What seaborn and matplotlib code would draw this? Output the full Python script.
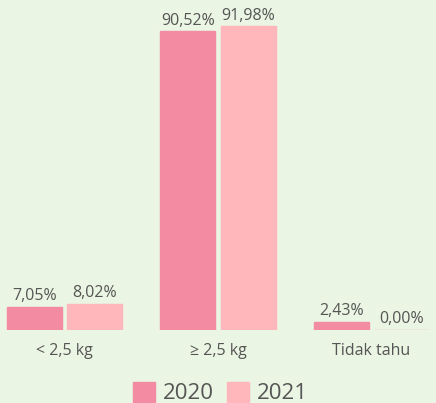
import pandas as pd
import matplotlib.pyplot as plt
import seaborn as sns

# data
categories = ['< 2,5 kg', '≥ 2,5 kg', 'Tidak tahu']
years = ['2020', '2021']
values_2020 = [7.05, 90.52, 2.43]
values_2021 = [8.02, 91.98, 0.00]

colors = {'2020': '#f38ba3', '2021': '#ffb7bb'}
bg = '#ebf5e3'
text_color = '#555555'

df = pd.DataFrame({
    'kategori': categories * 2,
    'tahun': ['2020'] * 3 + ['2021'] * 3,
    'nilai': values_2020 + values_2021,
})

sns.set_theme(style='white')
plt.rcParams['font.family'] = ['Open Sans', 'DejaVu Sans']

fig = plt.figure(figsize=(4.36, 4.03), dpi=100, facecolor=bg)
ax = fig.add_axes([0.0, 0.181, 1.0, 0.819])
ax.set_facecolor(bg)

sns.barplot(data=df, x='kategori', y='nilai', hue='tahun', order=categories,
            hue_order=years, palette=colors, saturation=1, width=0.79, gap=0.09,
            linewidth=1, ax=ax)
for p in ax.patches:
    p.set_edgecolor(p.get_facecolor())

for cont in ax.containers:
    labels = [f"{v:.2f}".replace('.', ',') + '%' for v in cont.datavalues]
    ax.bar_label(cont, labels=labels, padding=2, fontsize=11.5, color=text_color)

ax.set_xlim(-0.42, 2.42)
ax.set_ylim(0, 100)
ax.set_xlabel('')
ax.set_ylabel('')
ax.set_yticks([])
ax.tick_params(axis='x', length=0, pad=9, labelsize=11.5, labelcolor=text_color)
for s in ax.spines.values():
    s.set_visible(False)

handles, lbls = ax.get_legend_handles_labels()
ax.get_legend().remove()
fig.legend(handles, lbls, loc='center', bbox_to_anchor=(0.505, 0.025), ncol=2,
           frameon=False, fontsize=16, handlelength=1.0, handleheight=1.0,
           handletextpad=0.35, columnspacing=0.6, labelcolor=text_color)

fig.savefig('out.png', dpi=100, facecolor=bg)
